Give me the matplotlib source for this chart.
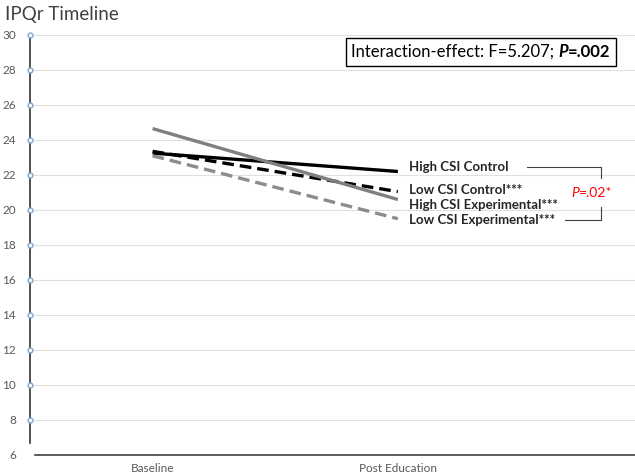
import matplotlib
matplotlib.use("Agg")
import matplotlib.pyplot as plt
from matplotlib.offsetbox import TextArea, HPacker, AnchoredOffsetbox

plt.rcParams['font.family'] = ['Lato', 'DejaVu Sans']

categories = ["Baseline", "Post Education"]
series_names = ["High CSI Control", "Low CSI Control***",
                "High CSI Experimental***", "Low CSI Experimental***"]
high_csi_control = [23.25, 22.2]
low_csi_control = [23.35, 21.05]
high_csi_experimental = [24.65, 20.6]
low_csi_experimental = [23.1, 19.5]
y_ticks = [6, 8, 10, 12, 14, 16, 18, 20, 22, 24, 26, 28, 30]
title = "IPQr Timeline"
stat_text = "Interaction-effect: F=5.207; "
stat_p = "P"
stat_pval = "=.002"
pair_p = "P"
pair_pval = "=.02*"

# label vertical positions (layout)
label_y = [22.45, 21.15, 20.3, 19.4]

fig = plt.figure(figsize=(6.35, 4.74), dpi=100)
ax = fig.add_axes([0.0472, 0.0401, 0.9528, 0.8861])
ax.set_xlim(-0.5, 1.967)
ax.set_ylim(6, 30)

xs = list(range(len(categories)))
styles = [
    dict(color="black", lw=2.4, ls="-"),
    dict(color="black", lw=2.4, ls=(0, (3.5, 1.8))),
    dict(color="#7f7f7f", lw=2.4, ls="-"),
    dict(color="#8c8c8c", lw=2.4, ls=(0, (3.5, 1.8))),
]
data = [high_csi_control, low_csi_control, high_csi_experimental, low_csi_experimental]
for vals, st in zip(data, styles):
    ax.plot(xs, vals, solid_capstyle="butt", dash_capstyle="butt", zorder=3, **st)

# gridlines
for t in y_ticks[1:]:
    ax.axhline(t, color="#e0e0e0", lw=0.8, zorder=1)

for s in ["top", "right"]:
    ax.spines[s].set_visible(False)
ax.spines["left"].set_color("#333333")
ax.spines["left"].set_linewidth(1.2)
ax.spines["left"].set_bounds(6.7, 30)
ax.spines["bottom"].set_color("#404040")
ax.spines["bottom"].set_linewidth(1.2)
ax.spines["bottom"].set_bounds(-0.48, 1.967)

ax.set_yticks(y_ticks)
ax.set_yticklabels([str(t) for t in y_ticks], fontsize=8.5, color="#595959")
ax.tick_params(axis="y", length=0, pad=10)
ax.set_xticks(xs)
ax.set_xticklabels(categories, fontsize=8.5, color="#595959")
ax.tick_params(axis="x", length=0, pad=6)

# markers on y-axis
ax.plot([-0.5] * len(y_ticks[1:]), y_ticks[1:], ls="none", marker="o", ms=3.5,
        mfc="white", mec="#7fa7cf", mew=1.0, clip_on=False, zorder=4)

fig.text(0.008, 0.97, title, fontsize=13.5, color="#404040", va="center", ha="left")

# stat box
fs = 12
ta1 = TextArea(stat_text, textprops=dict(fontsize=fs, color="black"))
ta2 = TextArea(stat_p, textprops=dict(fontsize=fs, color="black", weight="bold", style="italic"))
ta3 = TextArea(stat_pval, textprops=dict(fontsize=fs, color="black", weight="bold"))
box = HPacker(children=[ta1, ta2, ta3], align="baseline", pad=0, sep=0)
ab = AnchoredOffsetbox(loc="center", child=box, pad=0.4, borderpad=0,
                       frameon=True, bbox_to_anchor=(481 / 635, 1 - 52 / 474),
                       bbox_transform=fig.transFigure)
ab.patch.set_edgecolor("black")
ab.patch.set_linewidth(1.0)
ab.patch.set_boxstyle("square", pad=0)
ax.add_artist(ab)

# series labels
for name, ly in zip(series_names, label_y):
    ax.text(1.045, ly, name, fontsize=9.5, weight="bold", color="#262626",
            va="center", ha="left")

# bracket
bx = 1.829
ax.plot([1.527, bx, bx], [label_y[0], label_y[0], 21.8], color="#404040", lw=0.8, clip_on=False)
ax.plot([1.68, bx, bx], [label_y[3], label_y[3], 20.17], color="#404040", lw=0.8, clip_on=False)

pa1 = TextArea(pair_p, textprops=dict(fontsize=10, color="#ff0000", style="italic"))
pa2 = TextArea(pair_pval, textprops=dict(fontsize=10, color="#ff0000"))
pbox = HPacker(children=[pa1, pa2], align="baseline", pad=0, sep=0)
pab = AnchoredOffsetbox(loc="center", child=pbox, pad=0, borderpad=0, frameon=False,
                        bbox_to_anchor=(1.79, 20.97), bbox_transform=ax.transData)
ax.add_artist(pab)

fig.savefig("out.png", dpi=100)
